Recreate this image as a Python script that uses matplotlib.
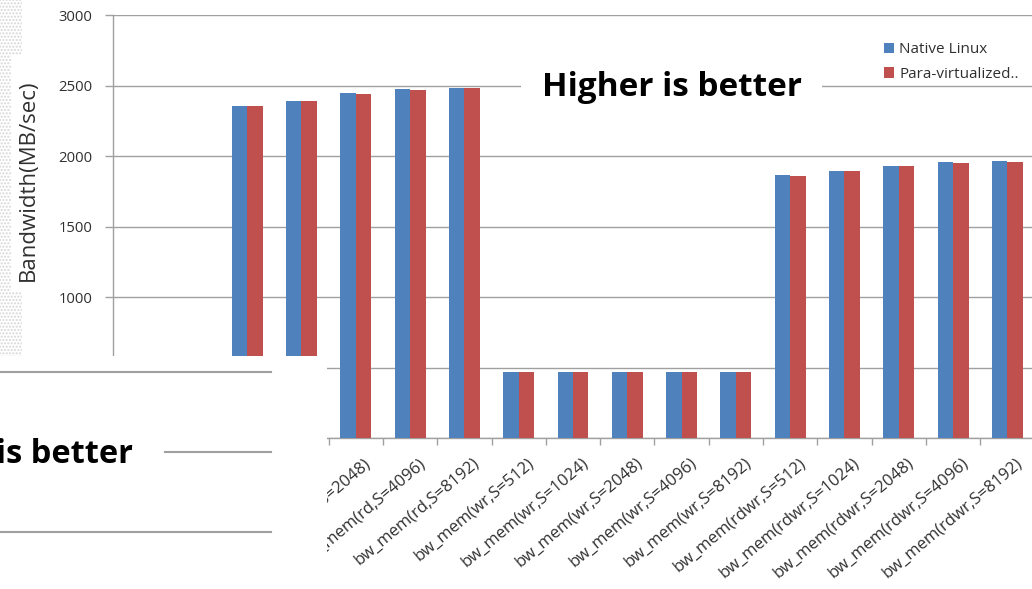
import matplotlib.pyplot as plt
from matplotlib.patches import Rectangle
from matplotlib.lines import Line2D

categories = ['bw_mem(rd,S=512)', 'bw_mem(rd,S=1024)', 'bw_mem(rd,S=2048)',
              'bw_mem(rd,S=4096)', 'bw_mem(rd,S=8192)',
              'bw_mem(wr,S=512)', 'bw_mem(wr,S=1024)', 'bw_mem(wr,S=2048)',
              'bw_mem(wr,S=4096)', 'bw_mem(wr,S=8192)',
              'bw_mem(rdwr,S=512)', 'bw_mem(rdwr,S=1024)', 'bw_mem(rdwr,S=2048)',
              'bw_mem(rdwr,S=4096)', 'bw_mem(rdwr,S=8192)']
native = [2355, 2390, 2450, 2478, 2487,
          467, 467, 467, 467, 467,
          1868, 1898, 1933, 1960, 1969]
para = [2355, 2390, 2440, 2467, 2485,
        467, 467, 467, 467, 467,
        1860, 1898, 1933, 1950, 1957]
yticks = [0, 500, 1000, 1500, 2000, 2500, 3000]

W, H = 1032, 589
BLUE = '#4F81BD'
RED = '#C0504D'
GRID = '#A0A0A0'
TXT = '#303030'

plt.rcParams['font.family'] = ['Open Sans', 'DejaVu Sans']


def fx(px):
    return px / W


def fy(py):
    return 1 - py / H


fig = plt.figure(figsize=(W / 100, H / 100), dpi=100)
ax = fig.add_axes([fx(113), fy(438.3), fx(W) - fx(113), fy(15.3) - fy(438.3)])

x = list(range(len(categories)))
bw = 0.285
ax.bar([i - bw / 2 for i in x], native, bw, color=BLUE, label='Native Linux', zorder=3)
ax.bar([i + bw / 2 for i in x], para, bw, color=RED, label='Para-virtualized..', zorder=3)

ax.set_ylim(0, 3000)
ax.set_xlim(-2.471, 14.453)
ax.set_yticks(yticks)
ax.set_yticklabels([str(v) for v in yticks], fontsize=10.7, color=TXT)
ax.yaxis.grid(True, color=GRID, lw=1.0)
ax.set_axisbelow(True)

# slanted category names sit a little right of each category centre,
# the visible tick marks go on the category boundaries
ax.set_xticks([i + 0.15 for i in x])
ax.set_xticklabels(categories, rotation=40, ha='right', va='top',
                   rotation_mode='anchor', fontsize=12, color=TXT)
ax.set_xticks([i - 0.5 for i in x], minor=True)
ax.tick_params(axis='x', which='major', length=0, pad=12)
ax.tick_params(axis='x', which='minor', length=5, color=GRID, width=1.0, direction='out')
ax.tick_params(axis='y', length=6, color=GRID, width=1.0, pad=9)

for s in ['top', 'right']:
    ax.spines[s].set_visible(False)
for s in ['left', 'bottom']:
    ax.spines[s].set_color(GRID)
    ax.spines[s].set_linewidth(1.0)

fig.text(fx(28), fy(180), 'Bandwidth(MB/sec)', rotation=90, ha='center', va='center',
         fontsize=16, color=TXT, zorder=2)

leg = ax.legend(loc='upper left', bbox_to_anchor=(fx(884), fy(42)),
                bbox_transform=fig.transFigure, frameon=False, fontsize=11,
                handlelength=0.65, handleheight=0.65, handletextpad=0.35,
                labelspacing=0.65, borderpad=0, borderaxespad=0)
for t in leg.get_texts():
    t.set_color(TXT)

# dotted strip at the far left, white box behind the axis title
fig.add_artist(Rectangle((0, fy(356)), fx(22), fy(0) - fy(356), transform=fig.transFigure,
                         facecolor='white', edgecolor='#d6d6d6', hatch='.....', lw=0,
                         zorder=1))
fig.add_artist(Rectangle((fx(11), fy(292)), fx(24) - fx(11), fy(55) - fy(292),
                         transform=fig.transFigure, facecolor='white', lw=0, zorder=1.5))

# white panel covering the lower left corner
fig.add_artist(Rectangle((0, 0), fx(327), fy(356), transform=fig.transFigure,
                         facecolor='white', lw=0, zorder=5))
for y0, x0, x1 in [(371.7, 0, 270.7), (451.7, 165, 270.7), (532, 0, 270.7)]:
    fig.add_artist(Line2D([fx(x0), fx(x1)], [fy(y0), fy(y0)], transform=fig.transFigure,
                          color=GRID, lw=1.5, zorder=6))
fig.text(fx(133), fy(463.3), 'is better', ha='right', va='baseline', fontsize=23.5,
         fontweight='bold', color='black', zorder=6)

# caption box over the 2500 gridline
fig.add_artist(Rectangle((fx(521), fy(110)), fx(822) - fx(521), fy(62) - fy(110),
                         transform=fig.transFigure, facecolor='white', lw=0, zorder=5))
fig.text(fx(671.7), fy(95.5), 'Higher is better', ha='center', va='baseline',
         fontsize=24, fontweight='bold', color='black', zorder=6)

fig.savefig('out.png', dpi=100)
